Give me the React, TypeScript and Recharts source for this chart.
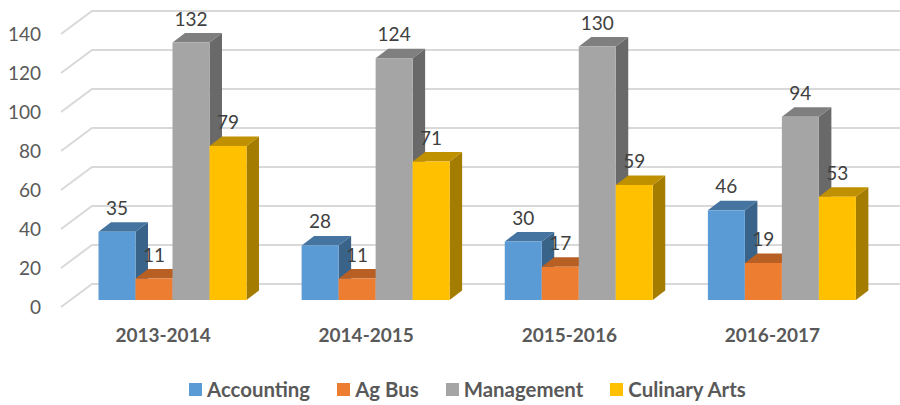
import { BarChart, Bar, XAxis, YAxis, CartesianGrid, LabelList, Legend } from 'recharts';

const YEARS = ['2013-2014', '2014-2015', '2015-2016', '2016-2017'];
const ACCOUNTING = [35, 28, 30, 46];
const AG_BUS = [11, 11, 17, 19];
const MANAGEMENT = [132, 124, 130, 94];
const CULINARY = [79, 71, 59, 53];
const Y_TICKS = [0, 20, 40, 60, 80, 100, 120, 140];

const chartData = YEARS.map((year, i) => ({
  year,
  accounting: ACCOUNTING[i],
  agBus: AG_BUS[i],
  management: MANAGEMENT[i],
  culinary: CULINARY[i],
}));

const SERIES = [
  { key: 'accounting', name: 'Accounting', front: '#5B9BD5', top: '#44749F', side: '#3A6389' },
  { key: 'agBus', name: 'Ag Bus', front: '#ED7D31', top: '#B85F24', side: '#9E501E' },
  { key: 'management', name: 'Management', front: '#A5A5A5', top: '#7F7F7F', side: '#696969' },
  { key: 'culinary', name: 'Culinary Arts', front: '#FFC000', top: '#BF9000', side: '#A47C00' },
];

const FONT = 'Lato, "Open Sans", sans-serif';
const DEPTH_X = 12.5;
const DEPTH_Y = 9.5;

// 3D look: front face plus top and right side faces
const Bar3D = ({ x, y, width, height, front, top, side }: any) => (
  <g>
    <polygon
      points={`${x + width},${y} ${x + width + DEPTH_X},${y - DEPTH_Y} ${x + width + DEPTH_X},${y + height - DEPTH_Y} ${x + width},${y + height}`}
      fill={side}
    />
    <polygon
      points={`${x},${y} ${x + DEPTH_X},${y - DEPTH_Y} ${x + width + DEPTH_X},${y - DEPTH_Y} ${x + width},${y}`}
      fill={top}
    />
    <rect x={x} y={y} width={width} height={height} fill={front} />
  </g>
);

// wall gridline: side wall going back, then along the back wall
const WallLine = ({ y1 }: any) => (
  <polyline
    points={`61,${y1 + 7} 92,${y1 - 16} 900,${y1 - 16}`}
    fill="none"
    stroke="#D9D9D9"
    strokeWidth={2}
  />
);

const YTick = ({ y, payload }: any) => (
  <text x={41} y={y + 7} dy={7} textAnchor="end" fontFamily={FONT} fontSize={19} fill="#595959">
    {payload.value}
  </text>
);

const XTick = ({ x, y, payload }: any) => (
  <text x={x - 9} y={y + 28} dy={6} textAnchor="middle" fontFamily={FONT} fontSize={19} fontWeight={700} fill="#595959">
    {payload.value}
  </text>
);

const LegendContent = () => (
  <div style={{ display: 'flex', justifyContent: 'flex-start', marginLeft: 189, marginTop: 12, fontFamily: FONT, fontSize: 20.4, fontWeight: 700, color: '#595959' }}>
    {SERIES.map((s) => (
      <span key={s.key} style={{ display: 'flex', alignItems: 'center', marginRight: 27 }}>
        <span style={{ width: 13, height: 13, background: s.front, marginRight: 5 }} />
        {s.name}
      </span>
    ))}
  </div>
);

const App = () => {
  return (
    <div style={{ position: 'absolute', left: 0, top: 0, background: '#fff' }}>
      <BarChart
        width={900}
        height={405}
        data={chartData}
        margin={{ top: 27, right: 17, bottom: 0, left: 0 }}
        barSize={37}
        barGap={0}
      >
        <CartesianGrid vertical={false} horizontal={(props: any) => <WallLine key={props.key} {...props} />} />
        <XAxis dataKey="year" axisLine={false} tickLine={false} height={65} tick={<XTick />} interval={0} />
        <YAxis width={70.5} domain={[0, 140]} ticks={Y_TICKS} axisLine={false} tickLine={false} tick={<YTick />} />
        <Legend verticalAlign="bottom" height={40} content={<LegendContent />} />
        {SERIES.map((s) => (
          <Bar
            key={s.key}
            dataKey={s.key}
            name={s.name}
            fill={s.front}
            isAnimationActive={false}
            shape={(props: any) => <Bar3D {...props} front={s.front} top={s.top} side={s.side} />}
          >
            <LabelList dataKey={s.key} position="top" offset={17} fontFamily={FONT} fontSize={19} fill="#404040" />
          </Bar>
        ))}
      </BarChart>
    </div>
  );
};

export default App;
